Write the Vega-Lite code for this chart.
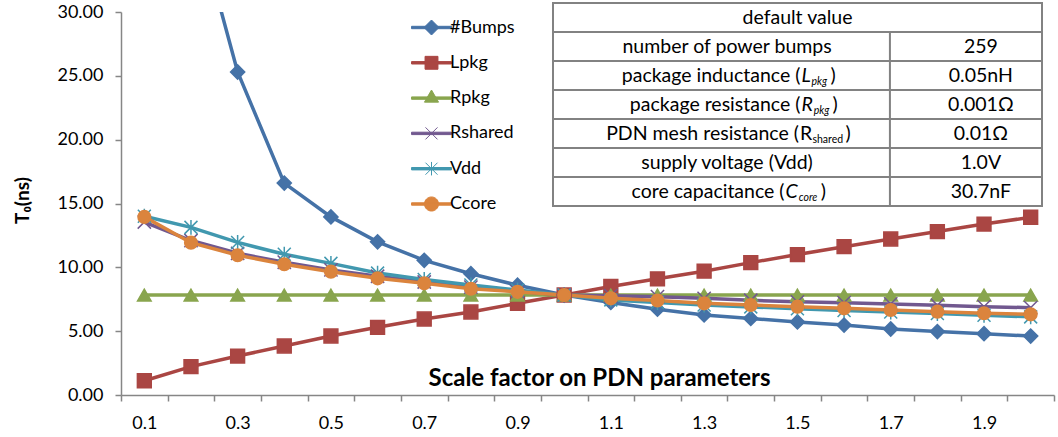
{
  "$schema": "https://vega.github.io/schema/vega-lite/v6.json",
  "width": 933,
  "height": 383,
  "autosize": {"type": "none"},
  "padding": {"left": 121, "top": 12, "right": 4, "bottom": 42},
  "config": {"view": {"stroke": null}, "font": "Lato", "text": {"font": "Lato", "fontSize": 19.5, "color": "black"}},
  "datasets": {
    "series": [
      {"s": 0.1, "#Bumps": 78, "Lpkg": 1.12, "Rpkg": 7.83, "Rshared": 13.55, "Vdd": 14.0, "Ccore": 13.95},
      {"s": 0.2, "#Bumps": 38.8, "Lpkg": 2.22, "Rpkg": 7.83, "Rshared": 12.1, "Vdd": 13.13, "Ccore": 11.93},
      {"s": 0.3, "#Bumps": 25.3, "Lpkg": 3.05, "Rpkg": 7.83, "Rshared": 11.1, "Vdd": 11.95, "Ccore": 10.95},
      {"s": 0.4, "#Bumps": 16.6, "Lpkg": 3.84, "Rpkg": 7.83, "Rshared": 10.4, "Vdd": 11.02, "Ccore": 10.24},
      {"s": 0.5, "#Bumps": 13.95, "Lpkg": 4.62, "Rpkg": 7.83, "Rshared": 9.8, "Vdd": 10.31, "Ccore": 9.66},
      {"s": 0.6, "#Bumps": 12.0, "Lpkg": 5.3, "Rpkg": 7.83, "Rshared": 9.3, "Vdd": 9.55, "Ccore": 9.14},
      {"s": 0.7, "#Bumps": 10.55, "Lpkg": 5.95, "Rpkg": 7.83, "Rshared": 8.85, "Vdd": 9.05, "Ccore": 8.75},
      {"s": 0.8, "#Bumps": 9.5, "Lpkg": 6.5, "Rpkg": 7.83, "Rshared": 8.45, "Vdd": 8.62, "Ccore": 8.32},
      {"s": 0.9, "#Bumps": 8.6, "Lpkg": 7.18, "Rpkg": 7.83, "Rshared": 8.12, "Vdd": 8.22, "Ccore": 8.08},
      {"s": 1.0, "#Bumps": 7.83, "Lpkg": 7.83, "Rpkg": 7.83, "Rshared": 7.83, "Vdd": 7.83, "Ccore": 7.83},
      {"s": 1.1, "#Bumps": 7.25, "Lpkg": 8.5, "Rpkg": 7.83, "Rshared": 7.78, "Vdd": 7.45, "Ccore": 7.57},
      {"s": 1.2, "#Bumps": 6.72, "Lpkg": 9.1, "Rpkg": 7.83, "Rshared": 7.7, "Vdd": 7.25, "Ccore": 7.4},
      {"s": 1.3, "#Bumps": 6.27, "Lpkg": 9.7, "Rpkg": 7.83, "Rshared": 7.57, "Vdd": 7.05, "Ccore": 7.18},
      {"s": 1.4, "#Bumps": 6.0, "Lpkg": 10.37, "Rpkg": 7.83, "Rshared": 7.42, "Vdd": 6.9, "Ccore": 7.05},
      {"s": 1.5, "#Bumps": 5.72, "Lpkg": 11.0, "Rpkg": 7.83, "Rshared": 7.3, "Vdd": 6.75, "Ccore": 6.92},
      {"s": 1.6, "#Bumps": 5.48, "Lpkg": 11.62, "Rpkg": 7.83, "Rshared": 7.23, "Vdd": 6.62, "Ccore": 6.79},
      {"s": 1.7, "#Bumps": 5.17, "Lpkg": 12.22, "Rpkg": 7.83, "Rshared": 7.13, "Vdd": 6.5, "Ccore": 6.66},
      {"s": 1.8, "#Bumps": 4.97, "Lpkg": 12.8, "Rpkg": 7.83, "Rshared": 7.03, "Vdd": 6.38, "Ccore": 6.53},
      {"s": 1.9, "#Bumps": 4.8, "Lpkg": 13.39, "Rpkg": 7.83, "Rshared": 6.92, "Vdd": 6.25, "Ccore": 6.4},
      {"s": 2.0, "#Bumps": 4.62, "Lpkg": 13.92, "Rpkg": 7.83, "Rshared": 6.84, "Vdd": 6.12, "Ccore": 6.32}
    ],
    "table": [
      {"row": 0, "label": "default value"},
      {"row": 1, "label": "number of power bumps", "val": "259"},
      {"row": 2, "pre": "package inductance (", "let": "L", "sub": "pkg", "post": ")", "val": "0.05nH"},
      {"row": 3, "pre": "package resistance (", "let": "R", "sub": "pkg", "post": ")", "val": "0.001Ω"},
      {"row": 4, "pre": "PDN mesh resistance (", "let": "R", "sub": "shared", "post": ")", "val": "0.01Ω"},
      {"row": 5, "label": "supply voltage (Vdd)", "val": "1.0V"},
      {"row": 6, "pre": "core capacitance (", "let": "C", "sub": "core", "post": ")", "val": "30.7nF"}
    ]
  },
  "layer": [
    {
      "data": {"name": "series"},
      "transform": [{"fold": ["#Bumps", "Lpkg", "Rpkg", "Rshared", "Vdd", "Ccore"], "as": ["series", "v"]}],
      "encoding": {
        "x": {
          "field": "s", "type": "quantitative",
          "scale": {"domain": [0.05, 2.05], "nice": false, "zero": false},
          "axis": {
            "values": [0.05,0.1,0.15,0.2,0.25,0.3,0.35,0.4,0.45,0.5,0.55,0.6,0.65,0.7,0.75,0.8,0.85,0.9,0.95,1,1.05,1.1,1.15,1.2,1.25,1.3,1.35,1.4,1.45,1.5,1.55,1.6,1.65,1.7,1.75,1.8,1.85,1.9,1.95,2,2.05],
            "labelExpr": "round(datum.value*100)%20==10 ? format(datum.value,'.1f') : ''",
            "tickOpacity": {"condition": {"test": "round(datum.value*100)%10==5", "value": 1}, "value": 0},
            "labelOverlap": false, "labelFlush": false, "grid": false,
            "domainColor": "#868686", "domainWidth": 1.5, "tickColor": "#868686", "tickWidth": 1.5, "tickSize": 6,
            "labelFont": "Lato", "labelFontSize": 18, "labelColor": "black", "labelPadding": 13,
            "title": "Scale factor on PDN parameters", "titleFont": "Lato", "titleFontSize": 24, "titleFontWeight": "bold",
            "titleColor": "black", "titleX": 478, "titleY": -10, "titleBaseline": "alphabetic", "titleAlign": "center"
          }
        },
        "y": {
          "field": "v", "type": "quantitative",
          "scale": {"domain": [0, 30], "nice": false},
          "axis": {
            "values": [0, 5, 10, 15, 20, 25, 30], "format": ".2f", "grid": false,
            "domainColor": "#868686", "domainWidth": 1.5, "tickColor": "#868686", "tickWidth": 1.5, "tickSize": 6,
            "labelFont": "Lato", "labelFontSize": 18, "labelColor": "black", "labelPadding": 12,
            "title": "T₀(ns)", "titleFont": "Lato", "titleFontSize": 19, "titleFontWeight": "bold", "titleColor": "black",
            "titleX": -99, "titleY": 188, "titleAngle": -90, "titleAlign": "center", "titleBaseline": "middle"
          }
        }
      },
      "layer": [
        {
          "mark": {"type": "line", "strokeWidth": 3.5, "clip": true},
          "encoding": {
            "stroke": {"field": "series", "type": "nominal", "scale": {"domain": ["#Bumps", "Lpkg", "Rpkg", "Rshared", "Vdd", "Ccore"], "range": ["#4572A7", "#AA4643", "#89A54E", "#71588F", "#4198AF", "#DB843D"]}, "legend": null}
          }
        },
        {
          "mark": {"type": "point", "opacity": 1, "strokeWidth": 1.5, "clip": true},
          "encoding": {
            "fill": {"field": "series", "type": "nominal", "scale": {"domain": ["#Bumps", "Lpkg", "Rpkg", "Rshared", "Vdd", "Ccore"], "range": ["#4572A7", "#AA4643", "#89A54E", "#71588F", "#4198AF", "#DB843D"]}, "legend": null},
            "stroke": {"field": "series", "type": "nominal", "scale": {"domain": ["#Bumps", "Lpkg", "Rpkg", "Rshared", "Vdd", "Ccore"], "range": ["#4572A7", "#AA4643", "#89A54E", "#71588F", "#4198AF", "#DB843D"]}, "legend": null},
            "shape": {"field": "series", "type": "nominal", "scale": {"domain": ["#Bumps", "Lpkg", "Rpkg", "Rshared", "Vdd", "Ccore"], "range": ["diamond", "square", "triangle-up", "M-1,-1L1,1M-1,1L1,-1", "M-1,-1L1,1M-1,1L1,-1M0,-1.15L0,1.15", "circle"]}, "legend": null},
            "size": {"field": "series", "type": "nominal", "scale": {"domain": ["#Bumps", "Lpkg", "Rpkg", "Rshared", "Vdd", "Ccore"], "range": [200, 160, 190, 140, 150, 190]}, "legend": null}
          }
        },
        {
          "mark": {"type": "point", "opacity": 0, "size": 900, "strokeWidth": 1, "clip": true},
          "encoding": {
            "fill": {"field": "series", "type": "nominal", "scale": {"domain": ["#Bumps", "Lpkg", "Rpkg", "Rshared", "Vdd", "Ccore"], "range": ["#4572A7", "#AA4643", "#89A54E", "#71588F", "#4198AF", "#DB843D"]},
              "legend": {"orient": "none", "legendX": 295, "legendY": 0, "title": null, "symbolSize": 900, "symbolStrokeWidth": 1, "symbolOpacity": 1, "labelFont": "Lato", "labelFontSize": 18, "labelColor": "black", "labelOffset": 3, "rowPadding": 10.3}},
            "stroke": {"field": "series", "type": "nominal", "scale": {"domain": ["#Bumps", "Lpkg", "Rpkg", "Rshared", "Vdd", "Ccore"], "range": ["#4572A7", "#AA4643", "#89A54E", "#71588F", "#4198AF", "#DB843D"]},
              "legend": {"orient": "none", "legendX": 295, "legendY": 0, "title": null, "symbolSize": 900, "symbolStrokeWidth": 1, "symbolOpacity": 1, "labelFont": "Lato", "labelFontSize": 18, "labelColor": "black", "labelOffset": 3, "rowPadding": 10.3}},
            "shape": {"field": "series", "type": "nominal",
              "scale": {"domain": ["#Bumps", "Lpkg", "Rpkg", "Rshared", "Vdd", "Ccore"], "range": [
                "M-1.33,-0.08H1.33V0.08H-1.33ZM0,-0.5L0.5,0L0,0.5L-0.5,0Z",
                "M-1.33,-0.08H1.33V0.08H-1.33ZM-0.43,-0.43H0.43V0.43H-0.43Z",
                "M-1.33,-0.08H1.33V0.08H-1.33ZM0,-0.54L0.47,0.27L-0.47,0.27Z",
                "M-1.33,-0.08H1.33V0.08H-1.33ZM-0.4,-0.4L0.4,0.4M-0.4,0.4L0.4,-0.4",
                "M-1.33,-0.08H1.33V0.08H-1.33ZM-0.4,-0.4L0.4,0.4M-0.4,0.4L0.4,-0.4M0,-0.45L0,0.45",
                "M-1.33,-0.08H1.33V0.08H-1.33ZM-0.47,0A0.47,0.47 0 1,1 0.47,0A0.47,0.47 0 1,1 -0.47,0Z"]},
              "legend": {"orient": "none", "legendX": 295, "legendY": 0, "title": null, "symbolSize": 900, "symbolStrokeWidth": 1, "symbolOpacity": 1, "labelFont": "Lato", "labelFontSize": 18, "labelColor": "black", "labelOffset": 3, "rowPadding": 10.3}}
          }
        }
      ],
      "resolve": {"scale": {"fill": "independent", "stroke": "independent", "shape": "independent", "size": "independent"}}
    },
    {
      "data": {"name": "table"},
      "encoding": {
        "y": {"field": "row", "type": "ordinal", "scale": {"type": "band", "domain": [0, 1, 2, 3, 4, 5, 6], "range": [-9, 194], "paddingInner": 0, "paddingOuter": 0}, "axis": null}
      },
      "layer": [
        {
          "mark": {"type": "rect", "fill": "white", "stroke": "#828282", "strokeWidth": 2},
          "encoding": {"x": {"datum": 0, "type": "quantitative", "scale": {"domain": [0, 1], "range": [432, 921]}, "axis": null}, "x2": {"datum": 1}}
        },
        {
          "transform": [{"filter": "datum.row >= 1"}],
          "mark": {"type": "rect", "fill": "white", "stroke": "#828282", "strokeWidth": 2},
          "encoding": {"x": {"datum": 0.689, "type": "quantitative"}, "x2": {"datum": 1}}
        },
        {
          "transform": [{"filter": "datum.row == 0"}],
          "mark": {"type": "text", "align": "center", "baseline": "middle"},
          "encoding": {"x": {"datum": 0.5, "type": "quantitative"}, "text": {"field": "label"}}
        },
        {
          "transform": [{"filter": "datum.row == 1 || datum.row == 5"}],
          "mark": {"type": "text", "align": "center", "baseline": "middle"},
          "encoding": {"x": {"datum": 0.356, "type": "quantitative"}, "text": {"field": "label"}}
        },
        {
          "transform": [{"filter": "datum.row >= 1"}],
          "mark": {"type": "text", "align": "center", "baseline": "middle"},
          "encoding": {"x": {"datum": 0.875, "type": "quantitative"}, "text": {"field": "val"}}
        },
        {"transform": [{"filter": "datum.row == 2"}], "mark": {"type": "text", "align": "right", "baseline": "middle"}, "encoding": {"x": {"datum": 0.506, "type": "quantitative"}, "text": {"field": "pre"}}},
        {"transform": [{"filter": "datum.row == 2"}], "mark": {"type": "text", "align": "left", "baseline": "middle", "fontStyle": "italic"}, "encoding": {"x": {"datum": 0.508, "type": "quantitative"}, "text": {"field": "let"}}},
        {"transform": [{"filter": "datum.row == 2"}], "mark": {"type": "text", "align": "left", "baseline": "middle", "fontStyle": "italic", "fontSize": 10.5, "dy": 6}, "encoding": {"x": {"datum": 0.5287, "type": "quantitative"}, "text": {"field": "sub"}}},
        {"transform": [{"filter": "datum.row == 2"}], "mark": {"type": "text", "align": "left", "baseline": "middle"}, "encoding": {"x": {"datum": 0.5675, "type": "quantitative"}, "text": {"field": "post"}}},
        {"transform": [{"filter": "datum.row == 3"}], "mark": {"type": "text", "align": "right", "baseline": "middle"}, "encoding": {"x": {"datum": 0.506, "type": "quantitative"}, "text": {"field": "pre"}}},
        {"transform": [{"filter": "datum.row == 3"}], "mark": {"type": "text", "align": "left", "baseline": "middle", "fontStyle": "italic"}, "encoding": {"x": {"datum": 0.508, "type": "quantitative"}, "text": {"field": "let"}}},
        {"transform": [{"filter": "datum.row == 3"}], "mark": {"type": "text", "align": "left", "baseline": "middle", "fontStyle": "italic", "fontSize": 10.5, "dy": 6}, "encoding": {"x": {"datum": 0.5330, "type": "quantitative"}, "text": {"field": "sub"}}},
        {"transform": [{"filter": "datum.row == 3"}], "mark": {"type": "text", "align": "left", "baseline": "middle"}, "encoding": {"x": {"datum": 0.5714, "type": "quantitative"}, "text": {"field": "post"}}},
        {"transform": [{"filter": "datum.row == 4"}], "mark": {"type": "text", "align": "right", "baseline": "middle"}, "encoding": {"x": {"datum": 0.503, "type": "quantitative"}, "text": {"field": "pre"}}},
        {"transform": [{"filter": "datum.row == 4"}], "mark": {"type": "text", "align": "left", "baseline": "middle"}, "encoding": {"x": {"datum": 0.505, "type": "quantitative"}, "text": {"field": "let"}}},
        {"transform": [{"filter": "datum.row == 4"}], "mark": {"type": "text", "align": "left", "baseline": "middle", "fontSize": 10.5, "dy": 6}, "encoding": {"x": {"datum": 0.5305, "type": "quantitative"}, "text": {"field": "sub"}}},
        {"transform": [{"filter": "datum.row == 4"}], "mark": {"type": "text", "align": "left", "baseline": "middle"}, "encoding": {"x": {"datum": 0.5980, "type": "quantitative"}, "text": {"field": "post"}}},
        {"transform": [{"filter": "datum.row == 6"}], "mark": {"type": "text", "align": "right", "baseline": "middle"}, "encoding": {"x": {"datum": 0.4736, "type": "quantitative"}, "text": {"field": "pre"}}},
        {"transform": [{"filter": "datum.row == 6"}], "mark": {"type": "text", "align": "left", "baseline": "middle", "fontStyle": "italic"}, "encoding": {"x": {"datum": 0.4756, "type": "quantitative"}, "text": {"field": "let"}}},
        {"transform": [{"filter": "datum.row == 6"}], "mark": {"type": "text", "align": "left", "baseline": "middle", "fontStyle": "italic", "fontSize": 10.5, "dy": 6}, "encoding": {"x": {"datum": 0.5026, "type": "quantitative"}, "text": {"field": "sub"}}},
        {"transform": [{"filter": "datum.row == 6"}], "mark": {"type": "text", "align": "left", "baseline": "middle"}, "encoding": {"x": {"datum": 0.5478, "type": "quantitative"}, "text": {"field": "post"}}}
      ]
    }
  ],
  "resolve": {"scale": {"x": "independent", "y": "independent"}}
}
